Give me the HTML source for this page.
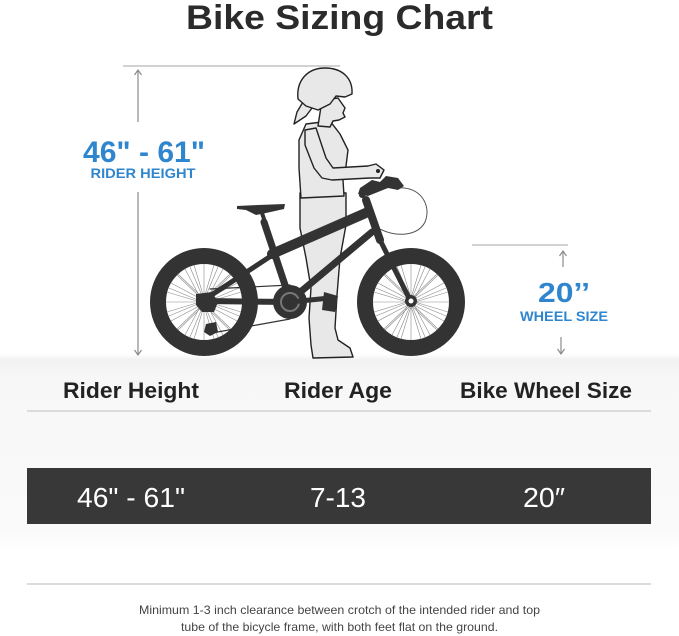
<!DOCTYPE html>
<html><head><meta charset="utf-8"><style>
html,body{margin:0;padding:0;background:#fff;}
svg{display:block;}
text{font-family:"Liberation Sans",sans-serif;}
</style></head><body>
<svg width="679" height="636" viewBox="0 0 679 636" xmlns="http://www.w3.org/2000/svg">
<defs>
<linearGradient id="band" x1="0" y1="0" x2="0" y2="1">
<stop offset="0" stop-color="#ffffff"/>
<stop offset="0.03" stop-color="#f1f1f1"/>
<stop offset="0.12" stop-color="#f7f7f7"/>
<stop offset="0.9" stop-color="#fafafa"/>
<stop offset="1" stop-color="#ffffff"/>
</linearGradient>
<g id="spokes" stroke="#8a8a8a" stroke-width="0.6">
<line x1="0" y1="-4" x2="10" y2="-37"/><line x1="0" y1="-4" x2="-10" y2="-37"/>
<line x1="0" y1="4" x2="10" y2="37"/><line x1="0" y1="4" x2="-10" y2="37"/>
<line x1="4" y1="0" x2="37" y2="10"/><line x1="4" y1="0" x2="37" y2="-10"/>
<line x1="-4" y1="0" x2="-37" y2="10"/><line x1="-4" y1="0" x2="-37" y2="-10"/>
<line x1="3" y1="-3" x2="19" y2="-33"/><line x1="-3" y1="-3" x2="-19" y2="-33"/>
<line x1="3" y1="3" x2="19" y2="33"/><line x1="-3" y1="3" x2="-19" y2="33"/>
<line x1="3" y1="-3" x2="33" y2="-19"/><line x1="-3" y1="-3" x2="-33" y2="-19"/>
<line x1="3" y1="3" x2="33" y2="19"/><line x1="-3" y1="3" x2="-33" y2="19"/>
<line x1="2" y1="-3" x2="27" y2="-27"/><line x1="-2" y1="-3" x2="-27" y2="-27"/>
<line x1="2" y1="3" x2="27" y2="27"/><line x1="-2" y1="3" x2="-27" y2="27"/>
<line x1="0" y1="-4" x2="0" y2="-38"/><line x1="0" y1="4" x2="0" y2="38"/>
<line x1="4" y1="0" x2="38" y2="0"/><line x1="-4" y1="0" x2="-38" y2="0"/>
<line x1="1" y1="-4" x2="26" y2="-28"/><line x1="-1" y1="-4" x2="-26" y2="-28"/>
<line x1="1" y1="4" x2="26" y2="28"/><line x1="-1" y1="4" x2="-26" y2="28"/>
<line x1="4" y1="-1" x2="35" y2="-14"/><line x1="-4" y1="-1" x2="-35" y2="-14"/>
<line x1="4" y1="1" x2="35" y2="14"/><line x1="-4" y1="1" x2="-35" y2="14"/>
<line x1="1" y1="-4" x2="14" y2="-35"/><line x1="-1" y1="-4" x2="-14" y2="-35"/>
<line x1="1" y1="4" x2="14" y2="35"/><line x1="-1" y1="4" x2="-14" y2="35"/>
</g>
</defs>

<rect x="0" y="354" width="679" height="196" fill="url(#band)"/>

<text x="339.5" y="29" font-size="34" font-weight="bold" fill="#2b2b2b" text-anchor="middle" textLength="307" lengthAdjust="spacingAndGlyphs">Bike Sizing Chart</text>

<line x1="123" y1="66" x2="340" y2="66" stroke="#c4c4c4" stroke-width="1.5"/>
<line x1="138" y1="71" x2="138" y2="122" stroke="#8a8a8a" stroke-width="1.2"/>
<path d="M134.5 75 L138 70 L141.5 75" fill="none" stroke="#8a8a8a" stroke-width="1.2"/>
<line x1="138" y1="192" x2="138" y2="354" stroke="#8a8a8a" stroke-width="1.2"/>
<path d="M134.5 350 L138 355 L141.5 350" fill="none" stroke="#8a8a8a" stroke-width="1.2"/>
<text x="144" y="162" font-size="30" font-weight="bold" fill="#2f86cf" text-anchor="middle" textLength="122" lengthAdjust="spacingAndGlyphs">46" - 61"</text>
<text x="143" y="178" font-size="14" font-weight="bold" fill="#2f86cf" text-anchor="middle" textLength="105" lengthAdjust="spacingAndGlyphs">RIDER HEIGHT</text>

<line x1="472" y1="245" x2="568" y2="245" stroke="#c4c4c4" stroke-width="1.5"/>
<line x1="563" y1="252" x2="563" y2="267" stroke="#8a8a8a" stroke-width="1.2"/>
<path d="M559.5 256 L563 251 L566.5 256" fill="none" stroke="#8a8a8a" stroke-width="1.2"/>
<line x1="561" y1="337" x2="561" y2="353" stroke="#8a8a8a" stroke-width="1.2"/>
<path d="M557.5 349 L561 354 L564.5 349" fill="none" stroke="#8a8a8a" stroke-width="1.2"/>
<text x="564" y="302" font-size="28" font-weight="bold" fill="#2f86cf" text-anchor="middle" textLength="52" lengthAdjust="spacingAndGlyphs">20’’</text>
<text x="564" y="321" font-size="14" font-weight="bold" fill="#2f86cf" text-anchor="middle" textLength="88" lengthAdjust="spacingAndGlyphs">WHEEL SIZE</text>

<g fill="#e8e8e8" stroke="#222" stroke-width="1.4" stroke-linejoin="round">
  <path d="M300 193 L346 193 L346 225 L340 258 L337 295 L335 328 L338 340 L350 348 L353 357 L313 358 L311 345 L309 318 L311 288 L306 258 L300 228 Z"/>
  <path d="M306 124 L330 121 L340 134 L348 150 L346 166 L343 180 L344 196 L301 198 L299 168 L299 140 Z"/>
  <path d="M322 100 L338 98 L345 108 L343 113 L345 117 L339 120 L333 121 L330 127 L318 126 Z"/>
  <path d="M303 102 L297 112 L294 124 L300 120 L306 116 L312 108 Z"/>
  <path d="M298 99 C296 80 308 68 325 68 C342 68 353 78 352 94 L345 97 L336 96 L330 104 L318 110 L306 106 Z"/>
  <path d="M305 130 L316 128 L326 158 L333 168 L368 166 L376 164 L384 170 L380 178 L370 178 L332 180 L322 178 L314 168 L305 145 Z"/>
</g>
<circle cx="378" cy="171" r="2" fill="#222"/>

<g fill="none" stroke="#333" stroke-linecap="round">
  <path d="M398 188 C420 186 432 205 425 222 C418 236 396 238 378 228" stroke="#555" stroke-width="1"/>
  <circle cx="204" cy="302" r="46" stroke-width="16"/>
  <circle cx="411" cy="302" r="46" stroke-width="16"/>
</g>
<use href="#spokes" x="204" y="302"/>
<use href="#spokes" x="411" y="302"/>
<g stroke="#333" stroke-linecap="round" fill="none">
  <line x1="290" y1="285" x2="210" y2="289" stroke-width="1.2"/>
  <line x1="290" y1="319" x2="212" y2="333" stroke-width="1.2"/>
  <line x1="204" y1="301" x2="290" y2="302" stroke-width="6"/>
  <line x1="204" y1="300" x2="277" y2="252" stroke-width="5"/>
  <path d="M272 254 L368 212" stroke-width="10"/>
  <line x1="264" y1="222" x2="290" y2="300" stroke-width="7"/>
  <line x1="261" y1="210" x2="266" y2="225" stroke-width="4"/>
  <line x1="298" y1="294" x2="372" y2="232" stroke-width="7"/>
  <line x1="366" y1="200" x2="380" y2="240" stroke-width="8"/>
  <line x1="378" y1="236" x2="411" y2="302" stroke-width="5"/>
  <line x1="362" y1="195" x2="372" y2="185" stroke-width="6"/>
</g>
<path d="M360 188 L372 180 L380 182 L386 176 L398 178 L404 186 L398 190 L388 188 L378 192 L368 196 L358 194 Z" fill="#333"/>
<path d="M237 206 L258 205 L285 204 L284 209 L266 213 L256 215 L246 210 L237 209 Z" fill="#333"/>
<circle cx="411" cy="301" r="6" fill="#333"/>
<circle cx="411" cy="301" r="2.5" fill="#fff"/>
<path d="M196 294 L212 292 L218 302 L214 312 L202 312 L196 305 Z" fill="#333"/>
<path d="M206 324 L216 322 L218 332 L210 336 L204 332 Z" fill="#333"/>
<circle cx="290" cy="302" r="17" fill="#333"/>
<circle cx="290" cy="302" r="9" fill="none" stroke="#777" stroke-width="2"/>
<circle cx="290" cy="302" r="3" fill="#333"/>
<line x1="290" y1="302" x2="330" y2="298" stroke="#333" stroke-width="5" stroke-linecap="round"/>
<path d="M324 292 L338 296 L335 312 L322 310 Z" fill="#333"/>

<g font-size="22" font-weight="bold" fill="#222" text-anchor="middle">
  <text x="131" y="398" textLength="136" lengthAdjust="spacingAndGlyphs">Rider Height</text>
  <text x="338" y="398" textLength="108" lengthAdjust="spacingAndGlyphs">Rider Age</text>
  <text x="546" y="398" textLength="172" lengthAdjust="spacingAndGlyphs">Bike Wheel Size</text>
</g>
<line x1="27" y1="411" x2="651" y2="411" stroke="#dcdcdc" stroke-width="2"/>
<rect x="27" y="468" width="624" height="56" fill="#383838"/>
<g font-size="28" fill="#fff" text-anchor="middle">
  <text x="131" y="507" textLength="108" lengthAdjust="spacingAndGlyphs">46" - 61"</text>
  <text x="338" y="507" textLength="56" lengthAdjust="spacingAndGlyphs">7-13</text>
  <text x="544" y="507" textLength="42" lengthAdjust="spacingAndGlyphs">20″</text>
</g>
<line x1="27" y1="584" x2="651" y2="584" stroke="#dcdcdc" stroke-width="2"/>
<g font-size="12" fill="#444" text-anchor="middle">
  <text x="339.5" y="614" textLength="401" lengthAdjust="spacingAndGlyphs">Minimum 1-3 inch clearance between crotch of the intended rider and top</text>
  <text x="339.5" y="631" textLength="317" lengthAdjust="spacingAndGlyphs">tube of the bicycle frame, with both feet flat on the ground.</text>
</g>
</svg>
</body></html>
